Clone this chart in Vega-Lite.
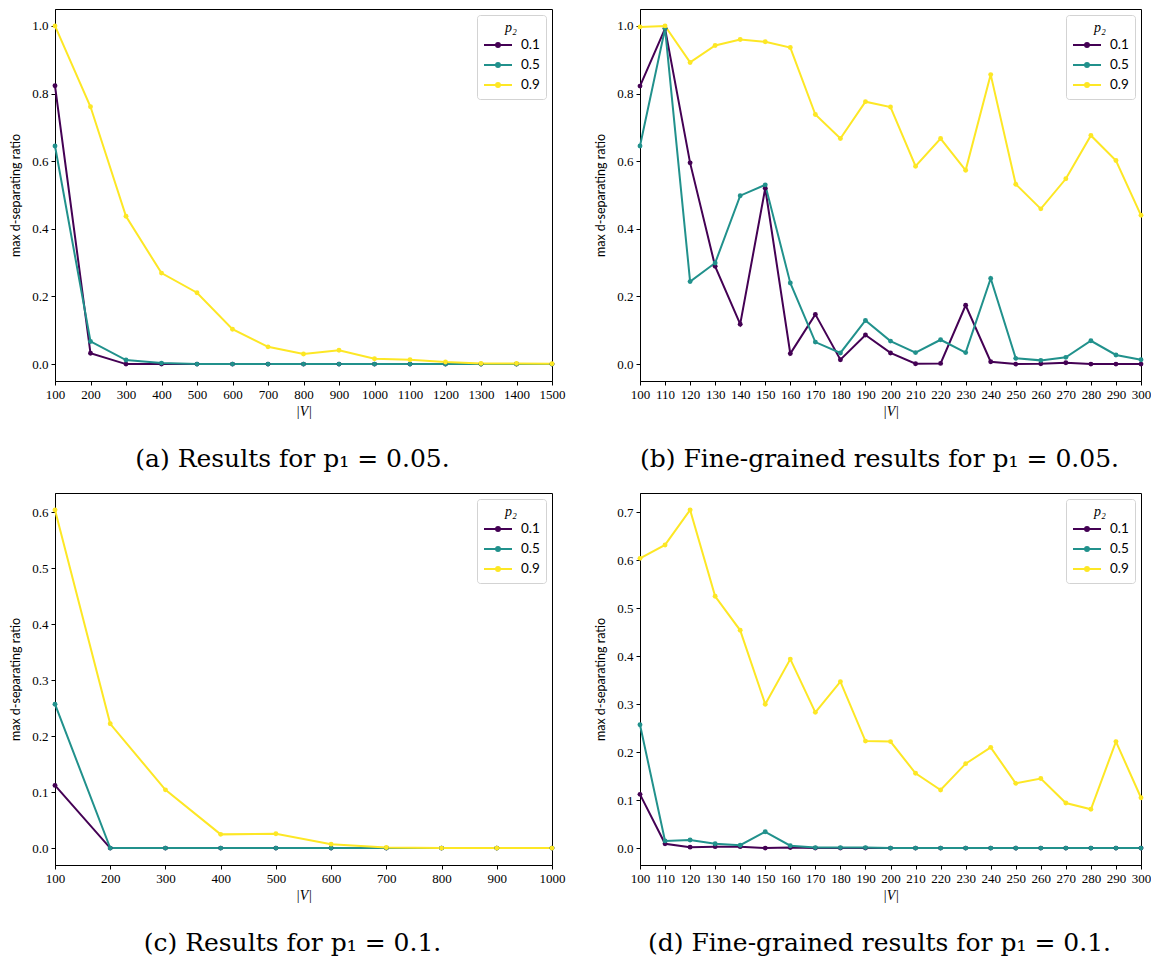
{
  "$schema": "https://vega.github.io/schema/vega-lite/v6.json",
  "background": "white",
  "padding": {"left": 9, "top": 8, "right": 5, "bottom": 0},
  "datasets": {
    "a": [
      {"V":100,"p2":"0.1","r":0.823},{"V":200,"p2":"0.1","r":0.032},{"V":300,"p2":"0.1","r":0},{"V":400,"p2":"0.1","r":0},{"V":500,"p2":"0.1","r":0},{"V":600,"p2":"0.1","r":0},{"V":700,"p2":"0.1","r":0},{"V":800,"p2":"0.1","r":0},{"V":900,"p2":"0.1","r":0},{"V":1000,"p2":"0.1","r":0},{"V":1100,"p2":"0.1","r":0},{"V":1200,"p2":"0.1","r":0},{"V":1300,"p2":"0.1","r":0},{"V":1400,"p2":"0.1","r":0},{"V":1500,"p2":"0.1","r":0},
      {"V":100,"p2":"0.5","r":0.645},{"V":200,"p2":"0.5","r":0.067},{"V":300,"p2":"0.5","r":0.012},{"V":400,"p2":"0.5","r":0.003},{"V":500,"p2":"0.5","r":0},{"V":600,"p2":"0.5","r":0},{"V":700,"p2":"0.5","r":0},{"V":800,"p2":"0.5","r":0},{"V":900,"p2":"0.5","r":0},{"V":1000,"p2":"0.5","r":0},{"V":1100,"p2":"0.5","r":0},{"V":1200,"p2":"0.5","r":0},{"V":1300,"p2":"0.5","r":0},{"V":1400,"p2":"0.5","r":0},{"V":1500,"p2":"0.5","r":0},
      {"V":100,"p2":"0.9","r":1.0},{"V":200,"p2":"0.9","r":0.761},{"V":300,"p2":"0.9","r":0.437},{"V":400,"p2":"0.9","r":0.269},{"V":500,"p2":"0.9","r":0.211},{"V":600,"p2":"0.9","r":0.103},{"V":700,"p2":"0.9","r":0.051},{"V":800,"p2":"0.9","r":0.030},{"V":900,"p2":"0.9","r":0.041},{"V":1000,"p2":"0.9","r":0.016},{"V":1100,"p2":"0.9","r":0.013},{"V":1200,"p2":"0.9","r":0.006},{"V":1300,"p2":"0.9","r":0.002},{"V":1400,"p2":"0.9","r":0.002},{"V":1500,"p2":"0.9","r":0.001}
    ],
    "b": [
      {"V":100,"p2":"0.1","r":0.822},{"V":110,"p2":"0.1","r":0.992},{"V":120,"p2":"0.1","r":0.595},{"V":130,"p2":"0.1","r":0.289},{"V":140,"p2":"0.1","r":0.118},{"V":150,"p2":"0.1","r":0.520},{"V":160,"p2":"0.1","r":0.031},{"V":170,"p2":"0.1","r":0.147},{"V":180,"p2":"0.1","r":0.013},{"V":190,"p2":"0.1","r":0.086},{"V":200,"p2":"0.1","r":0.033},{"V":210,"p2":"0.1","r":0.001},{"V":220,"p2":"0.1","r":0.002},{"V":230,"p2":"0.1","r":0.174},{"V":240,"p2":"0.1","r":0.007},{"V":250,"p2":"0.1","r":0.0},{"V":260,"p2":"0.1","r":0.001},{"V":270,"p2":"0.1","r":0.004},{"V":280,"p2":"0.1","r":0.0},{"V":290,"p2":"0.1","r":0.0},{"V":300,"p2":"0.1","r":0.0},
      {"V":100,"p2":"0.5","r":0.645},{"V":110,"p2":"0.5","r":0.992},{"V":120,"p2":"0.5","r":0.244},{"V":130,"p2":"0.5","r":0.299},{"V":140,"p2":"0.5","r":0.498},{"V":150,"p2":"0.5","r":0.530},{"V":160,"p2":"0.5","r":0.240},{"V":170,"p2":"0.5","r":0.065},{"V":180,"p2":"0.5","r":0.033},{"V":190,"p2":"0.5","r":0.129},{"V":200,"p2":"0.5","r":0.068},{"V":210,"p2":"0.5","r":0.034},{"V":220,"p2":"0.5","r":0.072},{"V":230,"p2":"0.5","r":0.034},{"V":240,"p2":"0.5","r":0.253},{"V":250,"p2":"0.5","r":0.017},{"V":260,"p2":"0.5","r":0.011},{"V":270,"p2":"0.5","r":0.020},{"V":280,"p2":"0.5","r":0.069},{"V":290,"p2":"0.5","r":0.027},{"V":300,"p2":"0.5","r":0.013},
      {"V":100,"p2":"0.9","r":0.997},{"V":110,"p2":"0.9","r":1.0},{"V":120,"p2":"0.9","r":0.892},{"V":130,"p2":"0.9","r":0.942},{"V":140,"p2":"0.9","r":0.960},{"V":150,"p2":"0.9","r":0.953},{"V":160,"p2":"0.9","r":0.936},{"V":170,"p2":"0.9","r":0.738},{"V":180,"p2":"0.9","r":0.667},{"V":190,"p2":"0.9","r":0.776},{"V":200,"p2":"0.9","r":0.760},{"V":210,"p2":"0.9","r":0.585},{"V":220,"p2":"0.9","r":0.667},{"V":230,"p2":"0.9","r":0.573},{"V":240,"p2":"0.9","r":0.856},{"V":250,"p2":"0.9","r":0.532},{"V":260,"p2":"0.9","r":0.459},{"V":270,"p2":"0.9","r":0.548},{"V":280,"p2":"0.9","r":0.676},{"V":290,"p2":"0.9","r":0.602},{"V":300,"p2":"0.9","r":0.440}
    ],
    "c": [
      {"V":100,"p2":"0.1","r":0.112},{"V":200,"p2":"0.1","r":0},{"V":300,"p2":"0.1","r":0},{"V":400,"p2":"0.1","r":0},{"V":500,"p2":"0.1","r":0},{"V":600,"p2":"0.1","r":0},{"V":700,"p2":"0.1","r":0},{"V":800,"p2":"0.1","r":0},{"V":900,"p2":"0.1","r":0},{"V":1000,"p2":"0.1","r":0},
      {"V":100,"p2":"0.5","r":0.257},{"V":200,"p2":"0.5","r":0},{"V":300,"p2":"0.5","r":0},{"V":400,"p2":"0.5","r":0},{"V":500,"p2":"0.5","r":0},{"V":600,"p2":"0.5","r":0},{"V":700,"p2":"0.5","r":0},{"V":800,"p2":"0.5","r":0},{"V":900,"p2":"0.5","r":0},{"V":1000,"p2":"0.5","r":0},
      {"V":100,"p2":"0.9","r":0.604},{"V":200,"p2":"0.9","r":0.222},{"V":300,"p2":"0.9","r":0.104},{"V":400,"p2":"0.9","r":0.0245},{"V":500,"p2":"0.9","r":0.0257},{"V":600,"p2":"0.9","r":0.007},{"V":700,"p2":"0.9","r":0.001},{"V":800,"p2":"0.9","r":0},{"V":900,"p2":"0.9","r":0},{"V":1000,"p2":"0.9","r":0}
    ],
    "d": [
      {"V":100,"p2":"0.1","r":0.112},{"V":110,"p2":"0.1","r":0.009},{"V":120,"p2":"0.1","r":0.002},{"V":130,"p2":"0.1","r":0.003},{"V":140,"p2":"0.1","r":0.003},{"V":150,"p2":"0.1","r":0.0},{"V":160,"p2":"0.1","r":0.001},{"V":170,"p2":"0.1","r":0},{"V":180,"p2":"0.1","r":0},{"V":190,"p2":"0.1","r":0},{"V":200,"p2":"0.1","r":0},{"V":210,"p2":"0.1","r":0},{"V":220,"p2":"0.1","r":0},{"V":230,"p2":"0.1","r":0},{"V":240,"p2":"0.1","r":0},{"V":250,"p2":"0.1","r":0},{"V":260,"p2":"0.1","r":0},{"V":270,"p2":"0.1","r":0},{"V":280,"p2":"0.1","r":0},{"V":290,"p2":"0.1","r":0},{"V":300,"p2":"0.1","r":0},
      {"V":100,"p2":"0.5","r":0.257},{"V":110,"p2":"0.5","r":0.015},{"V":120,"p2":"0.5","r":0.017},{"V":130,"p2":"0.5","r":0.009},{"V":140,"p2":"0.5","r":0.006},{"V":150,"p2":"0.5","r":0.034},{"V":160,"p2":"0.5","r":0.005},{"V":170,"p2":"0.5","r":0.001},{"V":180,"p2":"0.5","r":0.001},{"V":190,"p2":"0.5","r":0.001},{"V":200,"p2":"0.5","r":0},{"V":210,"p2":"0.5","r":0},{"V":220,"p2":"0.5","r":0},{"V":230,"p2":"0.5","r":0},{"V":240,"p2":"0.5","r":0},{"V":250,"p2":"0.5","r":0},{"V":260,"p2":"0.5","r":0},{"V":270,"p2":"0.5","r":0},{"V":280,"p2":"0.5","r":0},{"V":290,"p2":"0.5","r":0},{"V":300,"p2":"0.5","r":0},
      {"V":100,"p2":"0.9","r":0.604},{"V":110,"p2":"0.9","r":0.632},{"V":120,"p2":"0.9","r":0.705},{"V":130,"p2":"0.9","r":0.525},{"V":140,"p2":"0.9","r":0.454},{"V":150,"p2":"0.9","r":0.300},{"V":160,"p2":"0.9","r":0.394},{"V":170,"p2":"0.9","r":0.283},{"V":180,"p2":"0.9","r":0.347},{"V":190,"p2":"0.9","r":0.223},{"V":200,"p2":"0.9","r":0.222},{"V":210,"p2":"0.9","r":0.156},{"V":220,"p2":"0.9","r":0.121},{"V":230,"p2":"0.9","r":0.176},{"V":240,"p2":"0.9","r":0.210},{"V":250,"p2":"0.9","r":0.135},{"V":260,"p2":"0.9","r":0.145},{"V":270,"p2":"0.9","r":0.094},{"V":280,"p2":"0.9","r":0.081},{"V":290,"p2":"0.9","r":0.222},{"V":300,"p2":"0.9","r":0.105}
    ]
  },
  "config": {
    "view": {"stroke": "#000000", "strokeWidth": 1},
    "axis": {
      "grid": false, "domainColor": "#000000", "tickColor": "#000000", "tickSize": 4, "tickWidth": 1,
      "labelFont": "Liberation Serif", "labelFontSize": 13, "labelColor": "#000000", "labelPadding": 3,
      "labelOverlap": false, "labelFlush": false,
      "titleColor": "#000000", "titleFontWeight": "normal"
    },
    "axisX": {"titleFont": "Liberation Serif", "titleFontStyle": "italic", "titleFontSize": 14, "titlePadding": 3},
    "axisY": {"titleFont": "Lato", "titleFontSize": 12.5, "titlePadding": 9},
    "legend": {
      "orient": "top-right", "offset": 6, "titleFont": "Liberation Serif", "titleFontStyle": "italic", "titleFontSize": 14,
      "titleFontWeight": "normal", "titleAnchor": "middle", "titleColor": "#000000", "titlePadding": 2,
      "labelFont": "Lato", "labelFontSize": 13.5, "labelColor": "#000000", "labelOffset": 8,
      "symbolType": "M-1,0H1M-0.14,0A0.14,0.14,0,1,1,0.14,0A0.14,0.14,0,1,1,-0.14,0Z",
      "symbolSize": 784, "symbolStrokeWidth": 2, "rowPadding": 4, "clipHeight": 16,
      "strokeColor": "#d3d3d3", "fillColor": "#ffffff", "cornerRadius": 3, "padding": 6
    },
    "title": {"font": "DejaVu Serif", "fontSize": 25, "fontWeight": "normal", "color": "#000000", "orient": "bottom", "offset": 29, "frame": "group"}
  },
  "resolve": {"legend": {"color": "independent"}, "scale": {"color": "independent"}},
  "columns": 2,
  "spacing": {"row": 112, "column": 88},
  "bounds": "flush",
  "concat": [
    {
      "width": 497, "height": 372,
      "data": {"name": "a"},
      "title": {"text": "(a) Results for p₁ = 0.05.", "dx": -11},
      "mark": {"type": "line", "strokeWidth": 2, "point": {"filled": true, "size": 24}},
      "encoding": {
        "x": {"field": "V", "type": "quantitative", "scale": {"domain": [100, 1500], "nice": false, "zero": false},
              "axis": {"values": [100,200,300,400,500,600,700,800,900,1000,1100,1200,1300,1400,1500], "format": "d", "title": "|V|"}},
        "y": {"field": "r", "type": "quantitative", "scale": {"domain": [-0.05, 1.05], "nice": false, "zero": false},
              "axis": {"values": [0,0.2,0.4,0.6,0.8,1.0], "format": ".1f", "title": "max d-separating ratio"}},
        "color": {"field": "p2", "type": "nominal", "scale": {"domain": ["0.1","0.5","0.9"], "range": ["#440154","#21918c","#fde725"]},
                  "legend": {"title": "p₂", "encode": {"symbols": {"update": {"fill": {"signal": "datum.value === '0.1' ? '#440154' : datum.value === '0.5' ? '#21918c' : '#fde725'"}, "stroke": {"signal": "datum.value === '0.1' ? '#440154' : datum.value === '0.5' ? '#21918c' : '#fde725'"}}}}}}
      }
    },
    {
      "width": 501, "height": 372,
      "data": {"name": "b"},
      "title": {"text": "(b) Fine-grained results for p₁ = 0.05.", "dx": -11},
      "mark": {"type": "line", "strokeWidth": 2, "point": {"filled": true, "size": 24}},
      "encoding": {
        "x": {"field": "V", "type": "quantitative", "scale": {"domain": [100, 300], "nice": false, "zero": false},
              "axis": {"values": [100,110,120,130,140,150,160,170,180,190,200,210,220,230,240,250,260,270,280,290,300], "format": "d", "title": "|V|"}},
        "y": {"field": "r", "type": "quantitative", "scale": {"domain": [-0.05, 1.05], "nice": false, "zero": false},
              "axis": {"values": [0,0.2,0.4,0.6,0.8,1.0], "format": ".1f", "title": "max d-separating ratio"}},
        "color": {"field": "p2", "type": "nominal", "scale": {"domain": ["0.1","0.5","0.9"], "range": ["#440154","#21918c","#fde725"]},
                  "legend": {"title": "p₂", "encode": {"symbols": {"update": {"fill": {"signal": "datum.value === '0.1' ? '#440154' : datum.value === '0.5' ? '#21918c' : '#fde725'"}, "stroke": {"signal": "datum.value === '0.1' ? '#440154' : datum.value === '0.5' ? '#21918c' : '#fde725'"}}}}}}
      }
    },
    {
      "width": 497, "height": 372,
      "data": {"name": "c"},
      "title": {"text": "(c) Results for p₁ = 0.1.", "dx": -11},
      "mark": {"type": "line", "strokeWidth": 2, "point": {"filled": true, "size": 24}},
      "encoding": {
        "x": {"field": "V", "type": "quantitative", "scale": {"domain": [100, 1000], "nice": false, "zero": false},
              "axis": {"values": [100,200,300,400,500,600,700,800,900,1000], "format": "d", "title": "|V|"}},
        "y": {"field": "r", "type": "quantitative", "scale": {"domain": [-0.0302, 0.6342], "nice": false, "zero": false},
              "axis": {"values": [0,0.1,0.2,0.3,0.4,0.5,0.6], "format": ".1f", "title": "max d-separating ratio"}},
        "color": {"field": "p2", "type": "nominal", "scale": {"domain": ["0.1","0.5","0.9"], "range": ["#440154","#21918c","#fde725"]},
                  "legend": {"title": "p₂", "encode": {"symbols": {"update": {"fill": {"signal": "datum.value === '0.1' ? '#440154' : datum.value === '0.5' ? '#21918c' : '#fde725'"}, "stroke": {"signal": "datum.value === '0.1' ? '#440154' : datum.value === '0.5' ? '#21918c' : '#fde725'"}}}}}}
      }
    },
    {
      "width": 501, "height": 372,
      "data": {"name": "d"},
      "title": {"text": "(d) Fine-grained results for p₁ = 0.1.", "dx": -11},
      "mark": {"type": "line", "strokeWidth": 2, "point": {"filled": true, "size": 24}},
      "encoding": {
        "x": {"field": "V", "type": "quantitative", "scale": {"domain": [100, 300], "nice": false, "zero": false},
              "axis": {"values": [100,110,120,130,140,150,160,170,180,190,200,210,220,230,240,250,260,270,280,290,300], "format": "d", "title": "|V|"}},
        "y": {"field": "r", "type": "quantitative", "scale": {"domain": [-0.03525, 0.74025], "nice": false, "zero": false},
              "axis": {"values": [0,0.1,0.2,0.3,0.4,0.5,0.6,0.7], "format": ".1f", "title": "max d-separating ratio"}},
        "color": {"field": "p2", "type": "nominal", "scale": {"domain": ["0.1","0.5","0.9"], "range": ["#440154","#21918c","#fde725"]},
                  "legend": {"title": "p₂", "encode": {"symbols": {"update": {"fill": {"signal": "datum.value === '0.1' ? '#440154' : datum.value === '0.5' ? '#21918c' : '#fde725'"}, "stroke": {"signal": "datum.value === '0.1' ? '#440154' : datum.value === '0.5' ? '#21918c' : '#fde725'"}}}}}}
      }
    }
  ]
}
